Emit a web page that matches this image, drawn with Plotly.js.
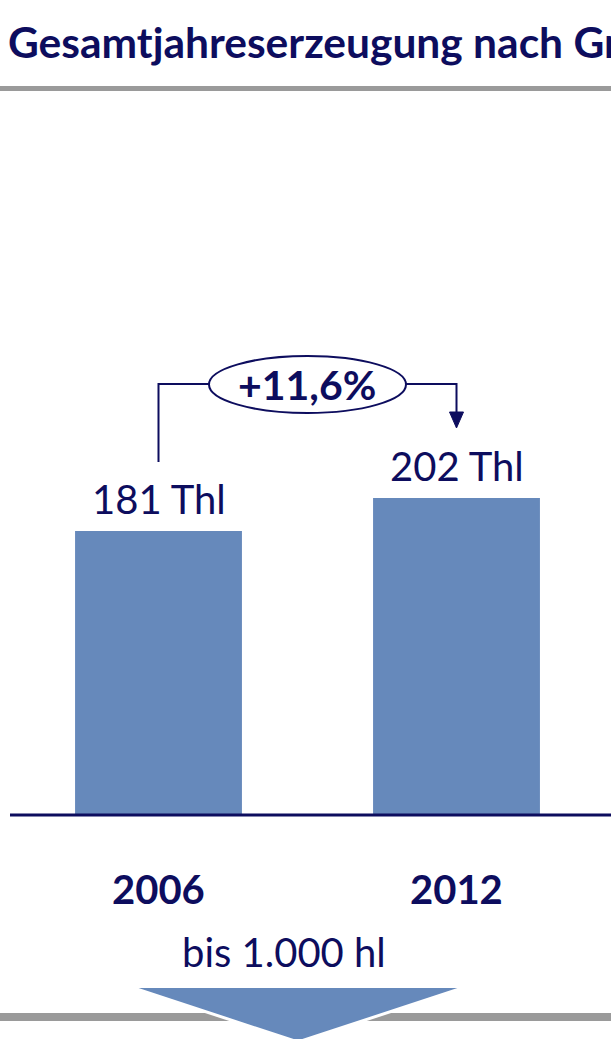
<!DOCTYPE html>
<html><head><meta charset="utf-8">
<script src="https://cdn.plot.ly/plotly-3.0.1.min.js"></script>
<style>html,body{margin:0;padding:0;background:#fff;overflow:hidden}#chart{width:611px;height:1039px}</style>
</head><body><div id="chart"></div>
<script>
const categories = ['2006', '2012'];
const values = [181, 202];
const unit = 'Thl';
const groupLabel = 'bis 1.000 hl';
const titleText = 'Gesamtjahreserzeugung nach Größenklassen';

const W = 611, H = 1039;
const navy = '#0d0d5e', barBlue = '#6689bb', gray = '#9a9a9a';
const FONT = 'Lato, "Open Sans", sans-serif';
const px = x => x / W;           // page px -> paper x
const py = y => 1 - y / H;       // page px -> paper y

const pct = ((values[1] / values[0] - 1) * 100).toFixed(1).replace('.', ',');

const trace = {
  type: 'bar', x: categories, y: values,
  marker: {color: barBlue, line: {width: 0}},
  hoverinfo: 'skip'
};

const annotations = [
  {xref: 'paper', yref: 'paper', x: px(6), y: py(42), xanchor: 'left', yanchor: 'middle',
   text: '<b>' + titleText + '</b>', showarrow: false,
   font: {family: FONT, size: 42.5, color: navy}},
  // value labels (category axis: position by index)
  ...categories.map((c, i) => ({xref: 'x', yref: 'y', x: i, y: values[i], yanchor: 'middle', yshift: 32.5,
    text: values[i] + ' ' + unit, showarrow: false, font: {family: FONT, size: 40, color: navy}})),
  // category labels
  ...categories.map((c, i) => ({xref: 'x', yref: 'paper', x: i, y: py(889), yanchor: 'middle',
    text: '<b>' + c + '</b>', showarrow: false, font: {family: FONT, size: 40, color: navy}})),
  {xref: 'paper', yref: 'paper', x: px(283.5), y: py(952), yanchor: 'middle',
   text: groupLabel, showarrow: false, font: {family: FONT, size: 40, color: navy}},
  {xref: 'paper', yref: 'paper', x: px(307), y: py(384), yanchor: 'middle',
   text: '<b>+' + pct + '%</b>', showarrow: false, font: {family: FONT, size: 41, color: navy}}
];

const shapes = [
  {type: 'rect', xref: 'paper', yref: 'paper', x0: 0, x1: 1, y0: py(86), y1: py(91),
   fillcolor: gray, line: {width: 0}},
  {type: 'line', xref: 'paper', yref: 'y', x0: px(10), x1: 1, y0: 0, y1: 0,
   line: {color: navy, width: 3}},
  // bracket
  {type: 'path', xref: 'paper', yref: 'paper',
   path: `M ${px(158.5)},${py(462)} L ${px(158.5)},${py(384)} L ${px(212)},${py(384)}`,
   line: {color: navy, width: 2}},
  {type: 'path', xref: 'paper', yref: 'paper',
   path: `M ${px(404)},${py(384)} L ${px(456.5)},${py(384)} L ${px(456.5)},${py(414)}`,
   line: {color: navy, width: 2}},
  {type: 'path', xref: 'paper', yref: 'paper',
   path: `M ${px(449.5)},${py(412)} L ${px(463.5)},${py(412)} L ${px(456.5)},${py(428)} Z`,
   fillcolor: navy, line: {color: navy, width: 1}},
  {type: 'circle', xref: 'paper', yref: 'paper', x0: px(209), x1: px(406), y0: py(413), y1: py(356),
   fillcolor: '#ffffff', line: {color: navy, width: 2}},
  // bottom
  {type: 'rect', xref: 'paper', yref: 'paper', x0: 0, x1: 1, y0: py(1013), y1: py(1021),
   fillcolor: gray, line: {width: 0}},
  {type: 'path', xref: 'paper', yref: 'paper',
   path: `M ${px(129)},${py(986.5)} L ${px(467)},${py(986.5)} L ${px(298)},${py(1042)} Z`,
   fillcolor: barBlue, line: {color: '#ffffff', width: 3}}
];

const layout = {
  width: W, height: H,
  margin: {l: 0, r: 0, t: 0, b: 0},
  paper_bgcolor: '#ffffff', plot_bgcolor: '#ffffff',
  showlegend: false, bargap: 0.44,
  xaxis: {type: 'category', range: [-158.5 / 298, (W - 158.5) / 298], visible: false, fixedrange: true},
  yaxis: {range: [-224 / 1.569, 815 / 1.569], visible: false, fixedrange: true},
  annotations, shapes
};

Plotly.newPlot('chart', [trace], layout, {staticPlot: true, displayModeBar: false});
</script></body></html>
